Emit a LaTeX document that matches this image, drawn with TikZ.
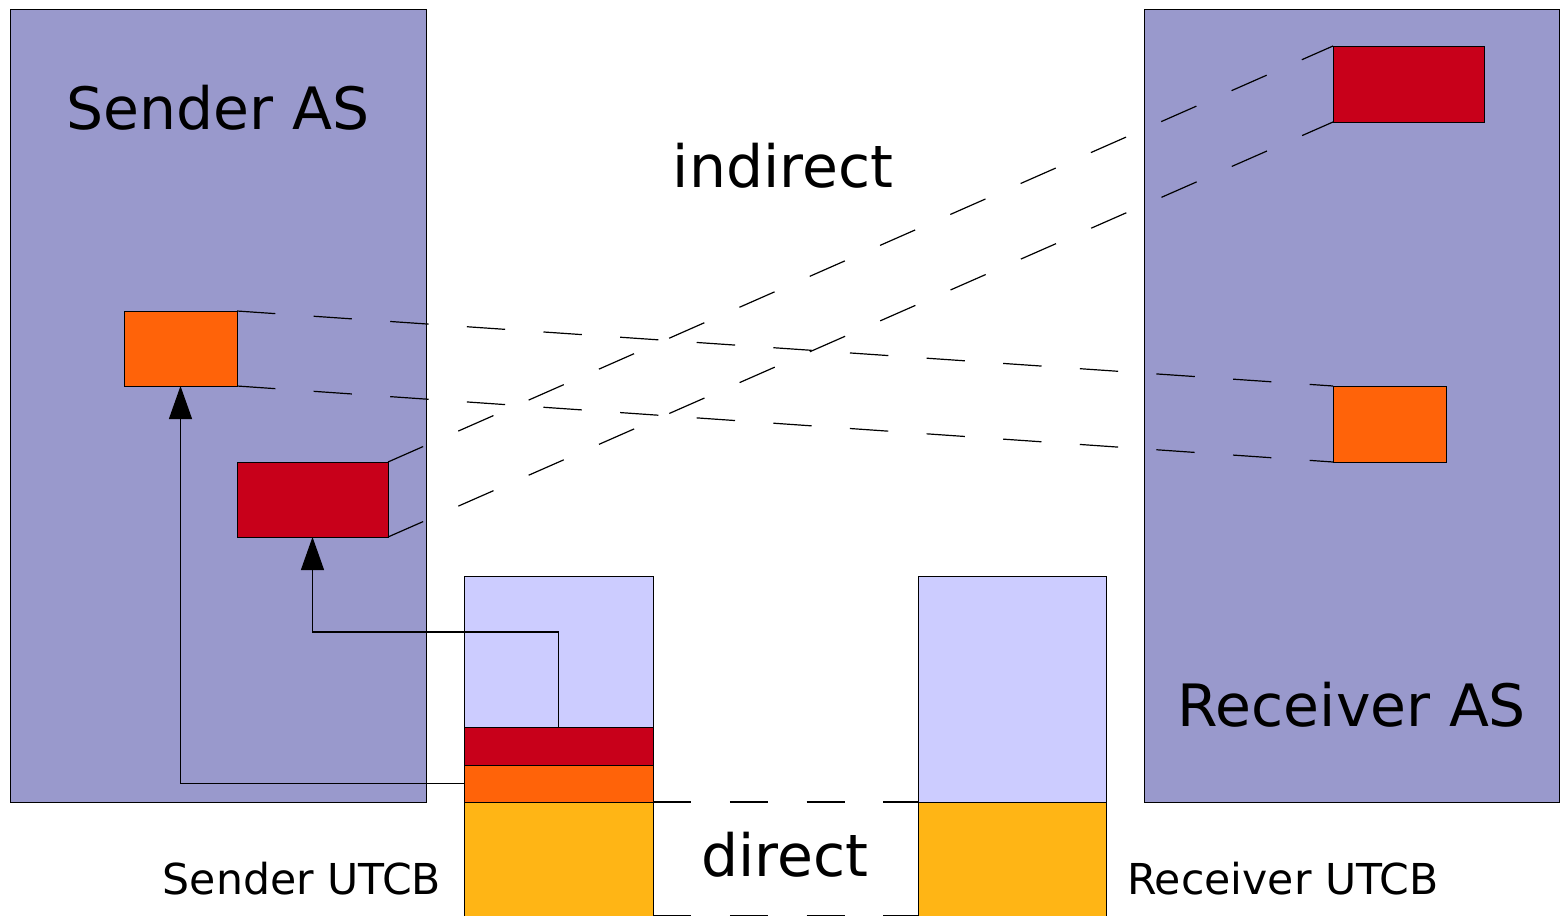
\documentclass[tikz,border=0pt]{standalone}
\usepackage{fontspec}
\setmainfont{DejaVu Sans}
\usetikzlibrary{arrows.meta}
\definecolor{asblue}{HTML}{9999CC}
\definecolor{utcblight}{HTML}{CCCCFF}
\definecolor{msgred}{HTML}{C8001A}
\definecolor{msgorange}{HTML}{FF6309}
\definecolor{utcbyellow}{HTML}{FFB515}
\tikzset{
  box/.style={draw=black, line width=0.5pt, inner sep=0pt, outer sep=0pt, anchor=north west},
  dashline/.style={draw=black, line width=0.6pt, dash pattern=on 19.2pt off 19.2pt},
  conn/.style={draw=black, line width=0.6pt},
  arr/.style={conn, -{Triangle[width=11.5pt,length=16.5pt]}},
  bigtext/.style={font=\fontsize{29.2}{34}\selectfont, inner sep=0pt, anchor=base},
  smalltext/.style={font=\fontsize{21.3}{25}\selectfont, inner sep=0pt, anchor=base}
}
\begin{document}
\begin{tikzpicture}[x=0.5pt,y=-0.5pt]
\useasboundingbox (0,0) rectangle (1560,916);
% AS boxes
\node[box, fill=asblue, minimum width=208pt, minimum height=396.5pt] (senderAS) at (10,9) {};
\node[box, fill=asblue, minimum width=207.5pt, minimum height=396.5pt] (receiverAS) at (1144,9) {};
% UTCBs
\node[box, fill=utcblight, minimum width=94.5pt, minimum height=75.5pt] (sutcbtop) at (464,576) {};
\node[box, fill=msgred, minimum width=94.5pt, minimum height=19pt] (sutcbred) at (464,727) {};
\node[box, fill=msgorange, minimum width=94.5pt, minimum height=18.5pt] (sutcbor) at (464,765) {};
\node[box, fill=utcbyellow, minimum width=94.5pt, minimum height=57pt] (sutcbyel) at (464,802) {};
\node[box, fill=utcblight, minimum width=94pt, minimum height=113pt] (rutcbtop) at (918,576) {};
\node[box, fill=utcbyellow, minimum width=94pt, minimum height=57pt] (rutcbyel) at (918,802) {};
% message boxes
\node[box, fill=msgorange, minimum width=56.5pt, minimum height=37.5pt] (sorange) at (124,311) {};
\node[box, fill=msgred, minimum width=75.5pt, minimum height=37.5pt] (sred) at (237,462) {};
\node[box, fill=msgred, minimum width=75.5pt, minimum height=38pt] (rred) at (1333,46) {};
\node[box, fill=msgorange, minimum width=56.5pt, minimum height=38pt] (rorange) at (1333,386) {};
% dashed connections
\draw[dashline] (sorange.north east) -- (rorange.north west);
\draw[dashline] (sorange.south east) -- (rorange.south west);
\draw[dashline] (sred.north east) -- (rred.north west);
\draw[dashline] (sred.south east) -- (rred.south west);
\draw[dashline] (sutcbyel.north east) -- (rutcbyel.north west);
\draw[dashline] (sutcbyel.south east) -- (rutcbyel.south west);
% arrows
\coordinate (bend) at (558.5,632);
\draw[arr] (sutcbor.west) -| (sorange.south);
\draw[arr] (sutcbred.north) -- (bend) -| (sred.south);
% labels
\node[bigtext] (lsender) at (218,129) {Sender AS};
\node[bigtext] (lreceiver) at (1352,726) {Receiver AS};
\node[bigtext] (lindirect) at (783,187) {indirect};
\node[bigtext] (ldirect) at (785,876) {direct};
\node[smalltext] (lsutcb) at (302,894) {Sender UTCB};
\node[smalltext] (lrutcb) at (1283,894) {Receiver UTCB};
\end{tikzpicture}
\end{document}
